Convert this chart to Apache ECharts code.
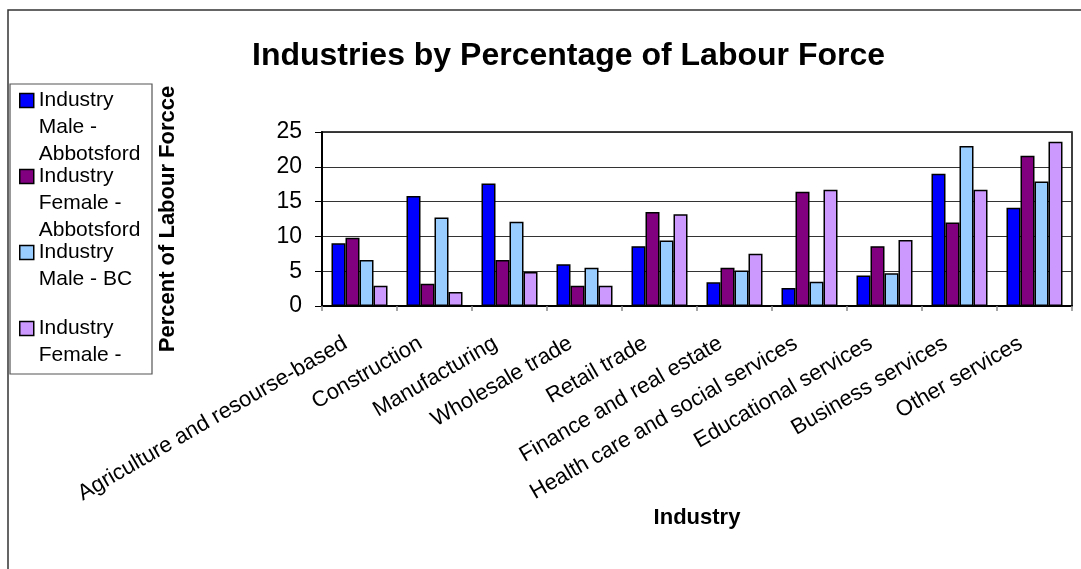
<!DOCTYPE html>
<html>
<head>
<meta charset="utf-8">
<title>Industries by Percentage of Labour Force</title>
<script src="https://cdn.jsdelivr.net/npm/echarts@6/dist/echarts.min.js"></script>
<style>
  html, body { margin: 0; padding: 0; background: #fff; }
  #chart { width: 1081px; height: 569px; }
</style>
</head>
<body>
<div id="chart"></div>
<script>
// Industry categories along the x axis
const categories = [
  'Agriculture and resourse-based',
  'Construction',
  'Manufacturing',
  'Wholesale trade',
  'Retail trade',
  'Finance and real estate',
  'Health care and social services',
  'Educational services',
  'Business services',
  'Other services'
];

// Percent of labour force per industry
const maleAbbotsford   = [9.0, 15.8, 17.6, 6.0, 8.6, 3.4, 2.6, 4.4, 19.0, 14.1];
const femaleAbbotsford = [9.8, 3.2, 6.6, 2.9, 13.5, 5.5, 16.4, 8.6, 12.0, 21.6];
const maleBC           = [6.6, 12.7, 12.1, 5.5, 9.4, 5.1, 3.5, 4.7, 23.0, 17.9];
const femaleBC         = [2.9, 2.0, 4.9, 2.9, 13.2, 7.5, 16.7, 9.5, 16.7, 23.6];

const seriesNames = [
  'Industry Male - Abbotsford',
  'Industry Female - Abbotsford',
  'Industry Male - BC',
  'Industry Female - BC'
];
const seriesColors = ['#0000FF', '#800080', '#99CCFF', '#CC99FF'];

// Wrapped legend text (the box is narrow, so the last entry is cut short)
const legendLines = [
  ['Industry', 'Male -', 'Abbotsford'],
  ['Industry', 'Female -', 'Abbotsford'],
  ['Industry', 'Male - BC', ''],
  ['Industry', 'Female -', '']
];

const yTicks = { min: 0, max: 25, interval: 5 };

const FONT = '"Liberation Sans", Arial, sans-serif';

const seriesData = [maleAbbotsford, femaleAbbotsford, maleBC, femaleBC];

const chart = echarts.init(document.getElementById('chart'), null, { renderer: 'canvas' });

chart.setOption({
  backgroundColor: '#fff',
  animation: false,
  textStyle: { fontFamily: FONT, color: '#000' },
  title: {
    text: 'Industries by Percentage of Labour Force',
    left: 252,
    top: 40,
    padding: 0,
    textStyle: { fontFamily: FONT, fontSize: 32, fontWeight: 'bold', color: '#000' }
  },
  legend: {
    orient: 'vertical',
    left: 19,
    top: 33,
    padding: 0,
    itemGap: -59,
    itemWidth: 14,
    itemHeight: 14,
    icon: 'rect',
    itemStyle: { borderColor: '#000', borderWidth: 1.5 },
    data: seriesNames,
    // two blank lines on top keep the first text line level with the swatch
    formatter: function (name) {
      return '\n\n' + legendLines[seriesNames.indexOf(name)].join('\n');
    },
    textStyle: {
      fontFamily: FONT,
      fontSize: 21,
      lineHeight: 27,
      color: '#000'
    }
  },
  grid: {
    left: 322,
    right: 9,
    top: 132,
    bottom: 263,
    show: true,
    borderColor: '#000',
    borderWidth: 1.5,
    containLabel: false
  },
  xAxis: {
    type: 'category',
    data: categories,
    name: 'Industry',
    nameLocation: 'middle',
    nameGap: 184,
    nameTextStyle: { fontFamily: FONT, fontSize: 22, fontWeight: 'bold', color: '#000' },
    axisLine: { lineStyle: { color: '#000', width: 2 } },
    axisTick: { show: true, length: 5, lineStyle: { color: '#888', width: 1.5 } },
    axisLabel: {
      interval: 0,
      rotate: 30,
      margin: 28,
      padding: [0, 16, 0, 0],
      fontFamily: FONT,
      fontSize: 22,
      color: '#000'
    },
    splitLine: { show: false }
  },
  yAxis: {
    type: 'value',
    min: yTicks.min,
    max: yTicks.max,
    interval: yTicks.interval,
    name: 'Percent of Labour Forcce',
    nameLocation: 'middle',
    nameGap: 143,
    nameTextStyle: { fontFamily: FONT, fontSize: 22, fontWeight: 'bold', color: '#000' },
    axisLine: { show: true, lineStyle: { color: '#000', width: 2 } },
    axisTick: { show: true, length: 7, lineStyle: { color: '#000', width: 1 } },
    axisLabel: { fontFamily: FONT, fontSize: 23, color: '#000', margin: 20 },
    splitLine: { show: true, lineStyle: { color: '#333', width: 1 } }
  },
  series: seriesNames.map(function (name, i) {
    return {
      name: name,
      type: 'bar',
      data: seriesData[i],
      barWidth: 14,
      barGap: '0%',
      itemStyle: { color: seriesColors[i], borderColor: '#000', borderWidth: 1.5 },
      emphasis: { disabled: true }
    };
  }),
  graphic: [
    {
      // outer chart frame (top and left edges in view)
      type: 'rect',
      shape: { x: 8, y: 10, width: 2000, height: 2000 },
      style: { fill: 'none', stroke: '#333', lineWidth: 1.5 },
      silent: true
    },
    {
      // legend box
      type: 'rect',
      shape: { x: 10, y: 84, width: 142, height: 290 },
      style: { fill: 'none', stroke: '#555', lineWidth: 1.2 },
      silent: true
    }
  ]
});
</script>
</body>
</html>
